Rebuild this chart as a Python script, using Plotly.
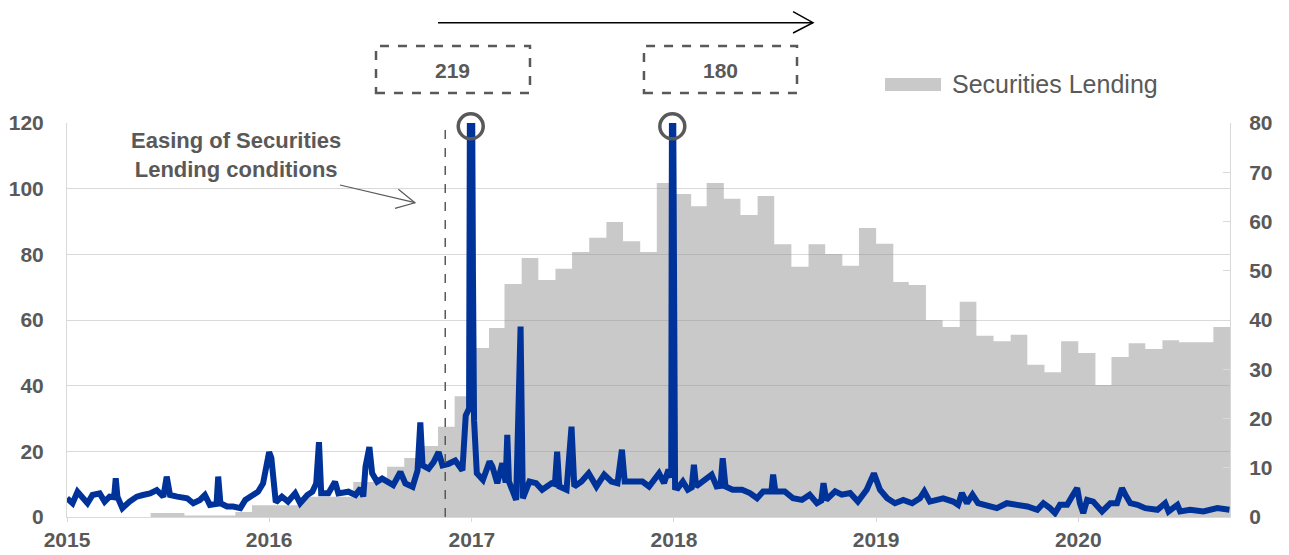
import pandas as pd
import plotly.graph_objects as go

# Monthly securities lending (right axis), Jan 2015 .. Sep 2020
lending = [
    0, 0, 0, 0, 0, 0.8, 0.8, 0.3, 0.3, 0.3, 1.0, 2.4,            # 2015
    2.4, 2.4, 4.1, 4.1, 4.1, 7.1, 7.1, 10.2, 12.0, 14.4, 18.3, 24.5,  # 2016
    34.3, 38.4, 47.3, 52.6, 48.1, 50.4, 53.8, 56.7, 59.9, 56.0, 53.8, 67.8,  # 2017
    65.6, 63.1, 67.8, 64.6, 61.3, 65.2, 55.4, 50.8, 55.4, 53.4, 51.0, 58.7,  # 2018
    55.5, 47.7, 47.1, 40.0, 38.6, 43.7, 36.8, 35.7, 37.0, 30.9, 29.4, 35.7,  # 2019
    33.3, 26.8, 32.5, 35.3, 34.1, 35.9, 35.5, 35.5, 38.6,              # 2020
]
lending_months = list(pd.date_range("2015-01-01", periods=len(lending), freq="MS").strftime("%Y-%m-%d"))
lending_end = "2020-10-01"

# Blue series (left axis)
blue_dates = [
    "2015-01-01", "2015-01-11", "2015-01-20", "2015-01-29", "2015-02-07", "2015-02-16", "2015-03-01",
    "2015-03-10", "2015-03-19", "2015-03-27", "2015-03-30", "2015-04-02", "2015-04-11", "2015-04-24",
    "2015-05-07", "2015-05-18", "2015-05-31", "2015-06-12", "2015-06-24", "2015-06-30", "2015-07-06",
    "2015-07-19", "2015-08-06", "2015-08-17", "2015-08-29", "2015-09-07", "2015-09-16", "2015-09-28",
    "2015-10-01", "2015-10-05", "2015-10-17", "2015-10-28", "2015-11-10", "2015-11-19", "2015-12-01",
    "2015-12-12", "2015-12-21", "2015-12-28", "2016-01-01", "2016-01-05", "2016-01-09", "2016-01-13",
    "2016-01-24", "2016-02-04", "2016-02-17", "2016-02-26", "2016-03-10", "2016-03-19", "2016-03-26",
    "2016-03-31", "2016-04-04", "2016-04-17", "2016-04-29", "2016-05-05", "2016-05-23", "2016-06-05",
    "2016-06-14", "2016-06-19", "2016-06-23", "2016-06-30", "2016-07-05", "2016-07-14", "2016-07-23",
    "2016-08-03", "2016-08-12", "2016-08-25", "2016-09-03", "2016-09-16", "2016-09-25", "2016-09-30",
    "2016-10-04", "2016-10-15", "2016-10-24", "2016-11-02", "2016-11-09", "2016-11-20", "2016-12-02",
    "2016-12-15", "2016-12-21", "2016-12-27", "2016-12-30", "2017-01-03", "2017-01-05", "2017-01-10",
    "2017-01-21", "2017-02-02", "2017-02-07", "2017-02-16", "2017-02-25", "2017-03-03", "2017-03-06",
    "2017-03-09", "2017-03-22", "2017-03-30", "2017-04-03", "2017-04-15", "2017-04-27", "2017-05-08",
    "2017-05-25", "2017-05-31", "2017-06-04", "2017-06-08", "2017-06-21", "2017-06-30", "2017-07-05",
    "2017-07-18", "2017-07-31", "2017-08-14", "2017-08-28", "2017-09-10", "2017-09-21", "2017-09-29",
    "2017-10-04", "2017-10-18", "2017-11-05", "2017-11-17", "2017-12-05", "2017-12-14", "2017-12-22",
    "2017-12-27", "2017-12-29", "2018-01-03", "2018-01-08", "2018-01-17", "2018-01-26", "2018-02-02",
    "2018-02-06", "2018-02-10", "2018-02-26", "2018-03-10", "2018-03-19", "2018-03-26", "2018-03-30",
    "2018-04-04", "2018-04-17", "2018-05-04", "2018-05-18", "2018-05-31", "2018-06-11", "2018-06-26",
    "2018-06-29", "2018-07-03", "2018-07-20", "2018-08-04", "2018-08-20", "2018-09-03", "2018-09-16",
    "2018-09-24", "2018-09-28", "2018-10-03", "2018-10-19", "2018-10-31", "2018-11-15", "2018-11-29",
    "2018-12-15", "2018-12-28", "2019-01-08", "2019-01-21", "2019-02-04", "2019-02-19", "2019-03-07",
    "2019-03-21", "2019-03-29", "2019-04-08", "2019-05-02", "2019-05-20", "2019-05-29", "2019-06-05",
    "2019-06-14", "2019-06-24", "2019-07-04", "2019-07-20", "2019-08-07", "2019-08-25", "2019-09-12",
    "2019-10-01", "2019-10-19", "2019-10-30", "2019-11-11", "2019-11-20", "2019-11-29", "2019-12-12",
    "2019-12-21", "2019-12-30", "2020-01-04", "2020-01-10", "2020-01-17", "2020-01-28", "2020-02-13",
    "2020-02-28", "2020-03-11", "2020-03-20", "2020-03-26", "2020-04-04", "2020-04-17", "2020-05-01",
    "2020-05-23", "2020-06-06", "2020-06-12", "2020-06-28", "2020-07-03", "2020-07-21", "2020-08-14",
    "2020-09-08", "2020-09-30",
]
blue_vals = [
    5.7, 4.2, 7.7, 5.7, 4.2, 6.7, 7.2,
    4.7, 6.2, 6.0, 11.8, 6.2, 2.7, 4.7,
    6.2, 6.7, 7.2, 8.2, 6.2, 12.3, 6.7,
    6.2, 5.7, 4.2, 5.2, 6.7, 3.7, 4.0,
    12.3, 4.2, 3.2, 3.2, 2.7, 5.2, 6.7,
    7.7, 10.2, 17.3, 19.8, 18.0, 10.0, 4.5,
    6.2, 4.7, 7.2, 4.2, 6.7, 7.7, 10.2,
    22.8, 7.2, 7.2, 10.7, 7.2, 7.7, 6.7,
    8.7, 6.2, 15.3, 21.3, 13.3, 10.7, 11.7,
    10.7, 9.7, 13.7, 10.2, 9.2, 14.2, 28.8,
    15.7, 14.7, 16.7, 19.8, 15.7, 16.2, 17.2,
    14.2, 30.9, 33.0, 219, 75, 29.5, 13.3,
    11.3, 16.9, 15.4, 10.3, 16.4, 10.5, 25.0,
    10.8, 5.2, 58.0, 5.7, 10.8, 10.3, 8.3,
    10.3, 10.0, 19.9, 9.3, 8.3, 27.5, 9.3,
    10.8, 13.3, 9.3, 12.9, 10.8, 10.3, 20.5,
    10.8, 10.8, 10.8, 9.3, 13.3, 10.3, 14.4,
    12.0, 180, 9.0, 8.8, 10.8, 8.3, 9.0,
    15.9, 9.3, 11.3, 12.9, 9.3, 9.5, 17.9,
    9.3, 8.3, 8.3, 7.3, 5.7, 7.8, 7.8,
    12.9, 7.8, 7.8, 5.7, 5.2, 6.8, 4.2,
    5.0, 10.3, 5.2, 7.8, 6.8, 7.3, 4.7,
    8.3, 13.3, 8.3, 5.7, 4.2, 5.2, 4.2,
    5.7, 7.8, 4.7, 5.7, 4.7, 3.7, 7.3,
    4.2, 6.8, 4.2, 3.7, 2.7, 4.2, 3.7,
    3.2, 2.2, 4.2, 2.7, 1.2, 3.7, 3.7,
    6.3, 8.8, 4.2, 1.2, 5.2, 4.7, 1.7,
    4.2, 4.2, 8.8, 6.8, 4.2, 3.7, 2.7,
    2.2, 4.2, 1.7, 3.7, 1.7, 2.2, 1.7,
    2.7, 2.2,
]

# Annotated peaks (true values beyond the axis)
peak_dates = ["2016-12-30", "2017-12-29"]
peak_labels = ["219", "180"]
easing_date = "2016-11-14"

GREY_TXT = "#595959"
GRID = "#d9d9d9"
FONT = "Liberation Sans, Arial, sans-serif"
tickfont = dict(family=FONT, size=21, color=GREY_TXT, weight="bold")

fig = go.Figure()

fig.add_trace(go.Scatter(
    x=lending_months + [lending_end], y=lending + [lending[-1]],
    mode="lines", line=dict(shape="hv", width=0),
    fill="tozeroy", fillcolor="rgba(147,147,147,0.5)",
    name="Securities Lending", yaxis="y", showlegend=False, hoverinfo="skip",
))

fig.add_trace(go.Scatter(
    x=blue_dates, y=blue_vals, mode="lines",
    line=dict(color="#003399", width=6),
    yaxis="y2", showlegend=False,
))

fig.add_trace(go.Scatter(
    x=peak_dates, y=[119, 119], mode="markers", yaxis="y2",
    marker=dict(symbol="circle-open", size=25, color=GREY_TXT,
                line=dict(width=3.5, color=GREY_TXT)),
    cliponaxis=False, showlegend=False, hoverinfo="skip",
))

shapes = []
# vertical dashed line
shapes.append(dict(type="line", xref="x", yref="paper", x0=easing_date, x1=easing_date,
                   y0=0, y1=1, line=dict(color=GREY_TXT, width=1.5, dash="dash"), layer="above"))
# dashed boxes for peak values
for x0, x1 in [(0.2657, 0.3981), (0.4961, 0.6277)]:
    shapes.append(dict(type="rect", xref="paper", yref="paper", x0=x0, x1=x1,
                       y0=1.0761, y1=1.1954,
                       line=dict(color=GREY_TXT, width=2.5, dash="dash")))
# top arrow
shapes.append(dict(type="line", xref="paper", yref="paper", x0=0.3190, x1=0.6414,
                   y0=1.2546, y1=1.2546, line=dict(color="black", width=1.5)))
shapes.append(dict(type="path", xref="paper", yref="paper",
                   path="M 0.6243 1.2825 L 0.6414 1.2546 L 0.6243 1.2284",
                   line=dict(color="black", width=1.5)))
# easing arrow
shapes.append(dict(type="line", xref="paper", yref="paper", x0=0.2347, y0=0.8426,
                   x1=0.2992, y1=0.7977, line=dict(color=GREY_TXT, width=1.2)))
shapes.append(dict(type="path", xref="paper", yref="paper",
                   path="M 0.2849 0.8317 L 0.2992 0.7977 L 0.2820 0.7835",
                   line=dict(color=GREY_TXT, width=1.2)))
# legend swatch
shapes.append(dict(type="rect", xref="paper", yref="paper", x0=0.7034, x1=0.7515,
                   y0=1.0812, y1=1.1142, fillcolor="#c9c9c9", line=dict(width=0)))

annotations = [
    dict(text=peak_labels[0], x=0.3319, y=1.1345, xref="paper", yref="paper", showarrow=False,
         yanchor="middle", xanchor="center",
         font=dict(family=FONT, size=21, color=GREY_TXT, weight="bold")),
    dict(text=peak_labels[1], x=0.5619, y=1.1345, xref="paper", yref="paper", showarrow=False,
         yanchor="middle", xanchor="center",
         font=dict(family=FONT, size=21, color=GREY_TXT, weight="bold")),
    dict(text="Easing of Securities<br>Lending conditions", x=0.1453, y=0.920,
         xref="paper", yref="paper", showarrow=False, align="center",
         yanchor="middle", xanchor="center",
         font=dict(family=FONT, size=22, color=GREY_TXT, weight="bold")),
    dict(text="Securities Lending", x=0.7592, y=1.0990, xref="paper", yref="paper",
         xanchor="left", yanchor="middle", showarrow=False,
         font=dict(family=FONT, size=25, color=GREY_TXT)),
]

fig.update_layout(
    width=1289, height=555,
    margin=dict(l=67, r=59, t=123, b=38, autoexpand=False),
    paper_bgcolor="white", plot_bgcolor="white",
    showlegend=False,
    shapes=shapes, annotations=annotations,
    xaxis=dict(type="date", range=["2015-01-01", "2020-10-01"], dtick="M12",
               tick0="2015-01-01", tickformat="%Y", ticks="outside", ticklen=4,
               tickcolor=GRID, showline=True, linecolor=GRID, showgrid=False,
               automargin=False,
               tickfont=dict(family=FONT, size=21, color=GREY_TXT, weight="bold"),
               ticklabelstandoff=0),
    yaxis=dict(range=[0, 80], dtick=10, side="right", showgrid=False, zeroline=False,
               ticks="inside", ticklen=7, tickcolor=GRID, showline=True, linecolor=GRID,
               automargin=False, tickfont=tickfont, ticklabelstandoff=14),
    yaxis2=dict(range=[0, 120], dtick=20, side="left", overlaying="y", showgrid=True,
                gridcolor=GRID, zeroline=False, showline=True, linecolor=GRID, ticks="",
                automargin=False, tickfont=tickfont, ticklabelstandoff=18),
)

fig.write_html("out.html", config={"displayModeBar": False},
               post_script="document.body.style.margin='0';")
